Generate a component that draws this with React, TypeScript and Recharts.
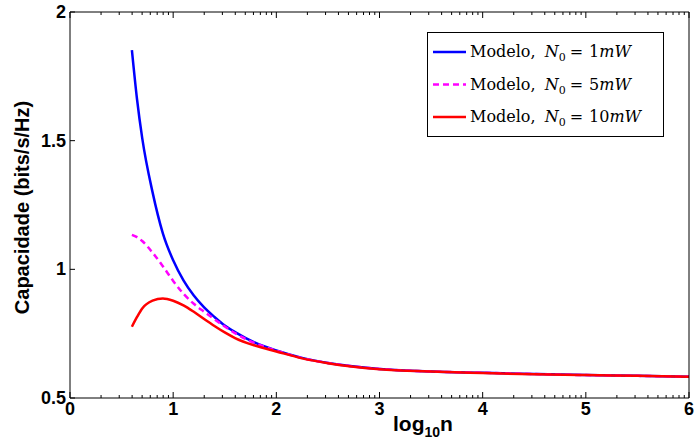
import { LineChart, Line, XAxis, YAxis, Legend, Label } from "recharts";

// log10(n) sample points
const xs = [0.6, 0.65, 0.7, 0.8, 0.9, 1.0, 1.1, 1.2, 1.3, 1.4, 1.5, 1.6, 1.8, 2.0, 2.25, 2.5, 3.0, 3.5, 4.0, 4.5, 5.0, 5.5, 6.0];
// capacidade (bits/s/Hz) por N0
const cap1mW = [1.852, 1.66, 1.51, 1.3, 1.14, 1.035, 0.957, 0.898, 0.852, 0.815, 0.782, 0.756, 0.714, 0.685, 0.656, 0.636, 0.613, 0.603, 0.598, 0.593, 0.589, 0.586, 0.583];
const cap5mW = [1.134, 1.125, 1.11, 1.065, 1.012, 0.955, 0.905, 0.866, 0.835, 0.806, 0.778, 0.752, 0.712, 0.684, 0.655, 0.636, 0.613, 0.603, 0.598, 0.593, 0.589, 0.586, 0.583];
const cap10mW = [0.777, 0.815, 0.848, 0.878, 0.887, 0.878, 0.86, 0.835, 0.807, 0.78, 0.755, 0.733, 0.703, 0.681, 0.654, 0.635, 0.612, 0.603, 0.597, 0.592, 0.589, 0.586, 0.583];

const noiseLevels = [1, 5, 10];
const xTickLabels = [0, 1, 2, 3, 4, 5, 6];
const yTickLabels = [0.5, 1, 1.5, 2];

const series = [
    { key: "n1", color: "#0000ff", dash: undefined as string | undefined, n0: noiseLevels[0] },
    { key: "n5", color: "#ff00ff", dash: "6 4", n0: noiseLevels[1] },
    { key: "n10", color: "#ff0000", dash: undefined as string | undefined, n0: noiseLevels[2] },
];

const data = xs.map((x, i) => ({ x, n1: cap1mW[i], n5: cap5mW[i], n10: cap10mW[i] }));

// log-scale minor ticks inside each decade
const xTicks: number[] = [];
for (let d = 0; d < xTickLabels.length - 1; d++) {
    for (let k = 1; k < 10; k++) xTicks.push(xTickLabels[d] + Math.log10(k));
}
xTicks.push(xTickLabels[xTickLabels.length - 1]);

const isMajor = (v: number) => Math.abs(v - Math.round(v)) < 1e-9;
const tickFont = { fontFamily: "Liberation Sans, Arial, sans-serif", fontWeight: 700, fontSize: 18 };

const BottomTick = (props: any) => {
    const { x, y, payload } = props;
    const major = isMajor(payload.value);
    return (
        <g>
            <line x1={x} x2={x} y1={y} y2={y - (major ? 6 : 3)} stroke="#000" />
            {major && (
                <text x={x} y={y + 17} textAnchor="middle" fill="#000" {...tickFont}>
                    {Math.round(payload.value)}
                </text>
            )}
        </g>
    );
};

const TopTick = (props: any) => {
    const { x, y, payload } = props;
    const major = isMajor(payload.value);
    return <line x1={x} x2={x} y1={y} y2={y + (major ? 6 : 3)} stroke="#000" />;
};

const LeftTick = (props: any) => {
    const { x, y, payload } = props;
    return (
        <g>
            <line x1={x} x2={x + 5} y1={y} y2={y} stroke="#000" />
            <text x={x - 4} y={y + 6} textAnchor="end" fill="#000" {...tickFont}>
                {payload.value}
            </text>
        </g>
    );
};

const RightTick = (props: any) => {
    const { x, y } = props;
    return <line x1={x} x2={x - 5} y1={y} y2={y} stroke="#000" />;
};

const LegendBox = () => (
    <svg width={237} height={105} style={{ display: "block" }}>
        <rect x={0.5} y={0.5} width={236} height={104} fill="#fff" stroke="#000" />
        {series.map((s, i) => {
            const ly = 20 + i * 32.5;
            return (
                <g key={s.key}>
                    <line x1={6} x2={39} y1={ly} y2={ly} stroke={s.color} strokeWidth={2.5} strokeDasharray={s.dash} />
                    <text x={43} y={ly + 5} fontFamily="DejaVu Serif, serif" fontSize={16} fill="#000">
                        Modelo,{" "}
                        <tspan dx={4} fontStyle="italic">N</tspan>
                        <tspan fontSize={11} dy={4}>0</tspan>
                        <tspan dy={-4} dx={4}>=</tspan>
                        <tspan dx={6}>{s.n0}</tspan>
                        <tspan fontStyle="italic">mW</tspan>
                    </text>
                </g>
            );
        })}
    </svg>
);

const App = () => {
    return (
        <div style={{ position: "absolute", left: 0, top: 0 }}>
            <LineChart width={694} height={443} data={data} margin={{ top: 11, right: 4, bottom: 44, left: 69 }}>
                <XAxis
                    dataKey="x"
                    type="number"
                    domain={[0, 6]}
                    ticks={xTicks}
                    interval={0}
                    height={1}
                    tickSize={0}
                    tickMargin={0}
                    tickLine={false}
                    axisLine={{ stroke: "#000" }}
                    tick={<BottomTick />}
                >
                    <Label
                        content={() => (
                            <text x={393} y={431} fill="#000" fontFamily="Liberation Sans, Arial, sans-serif" fontWeight={700} fontSize={21}>
                                log
                                <tspan fontSize={14} dy={6}>10</tspan>
                                <tspan dy={-6}>n</tspan>
                            </text>
                        )}
                    />
                </XAxis>
                <XAxis
                    xAxisId="t"
                    orientation="top"
                    dataKey="x"
                    type="number"
                    domain={[0, 6]}
                    ticks={xTicks}
                    interval={0}
                    height={1}
                    tickSize={0}
                    tickMargin={0}
                    tickLine={false}
                    axisLine={{ stroke: "#000" }}
                    tick={<TopTick />}
                />
                <YAxis
                    type="number"
                    domain={[0.5, 2]}
                    ticks={yTickLabels}
                    interval={0}
                    width={1}
                    tickSize={0}
                    tickMargin={0}
                    tickLine={false}
                    axisLine={{ stroke: "#000" }}
                    tick={<LeftTick />}
                >
                    <Label
                        content={() => (
                            <text
                                transform="translate(29,207.5) rotate(-90)"
                                textAnchor="middle"
                                fill="#000"
                                fontFamily="Liberation Sans, Arial, sans-serif"
                                fontWeight={700}
                                fontSize={20}
                            >
                                Capacidade (bits/s/Hz)
                            </text>
                        )}
                    />
                </YAxis>
                <YAxis
                    yAxisId="r"
                    orientation="right"
                    type="number"
                    domain={[0.5, 2]}
                    ticks={yTickLabels}
                    interval={0}
                    width={1}
                    tickSize={0}
                    tickMargin={0}
                    tickLine={false}
                    axisLine={{ stroke: "#000" }}
                    tick={<RightTick />}
                />
                <Legend
                    layout="vertical"
                    align="center"
                    verticalAlign="middle"
                    content={() => <LegendBox />}
                    wrapperStyle={{ left: 427, top: 32, width: 237, height: 105 }}
                />
                {series.map((s) => (
                    <Line
                        key={s.key}
                        type="monotone"
                        dataKey={s.key}
                        stroke={s.color}
                        strokeWidth={2.5}
                        strokeDasharray={s.dash}
                        dot={false}
                        activeDot={false}
                        isAnimationActive={false}
                    />
                ))}
            </LineChart>
        </div>
    );
};

export default App;
